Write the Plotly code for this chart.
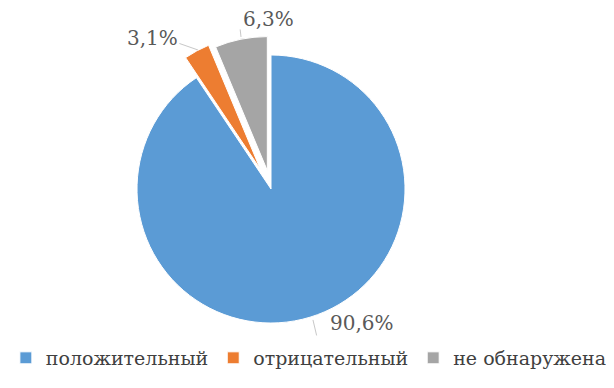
import plotly.graph_objects as go

labels = ["положительный", "отрицательный", "не обнаружена"]
values = [90.6, 3.1, 6.3]
text_labels = ["90,6%", "3,1%", "6,3%"]
colors = ["#5B9BD5", "#ED7D31", "#A5A5A5"]
pulls = [0, 0.17, 0.14]

SERIF = "DejaVu Serif, serif"

fig = go.Figure(go.Pie(
    labels=labels,
    values=values,
    sort=False,
    direction="clockwise",
    rotation=0,
    pull=pulls,
    marker=dict(colors=colors, line=dict(color="white", width=1)),
    textinfo="none",
    hoverinfo="label+percent",
    domain=dict(x=[0.173, 0.6837], y=[0.1294, 0.9376]),
))

# label positions (paper) and leader line tips / offsets
label_pos = [(0.5765, 0.188), (0.236, 0.9227), (0.425, 0.972)]
leader = [(0.4967, 0.196, 4, 17), (0.3094, 0.8918, -20, -7), (0.3795, 0.9253, -1, -9)]
for t, (x, y) in zip(text_labels, label_pos):
    fig.add_annotation(x=x, y=y, xref="paper", yref="paper", text=t,
                       showarrow=False, xanchor="center", yanchor="middle",
                       height=20, valign="middle", borderpad=0,
                       font=dict(family=SERIF, size=20, color="#595959"))
for (x, y, ax, ay) in leader:
    fig.add_annotation(x=x, y=y, xref="paper", yref="paper", text="",
                       showarrow=True, arrowhead=0, arrowwidth=1,
                       arrowcolor="#C8C8C8", ax=ax, ay=ay, standoff=0, startstandoff=0)

fig.update_layout(
    width=614, height=388,
    margin=dict(l=0, r=0, t=0, b=0, autoexpand=False),
    paper_bgcolor="white",
    plot_bgcolor="white",
    legend=dict(orientation="h", x=0.49, xanchor="center", y=0.098, yanchor="middle",
                font=dict(family=SERIF, size=19, color="#404040"),
                itemwidth=30, traceorder="normal"),
)

fig.write_html("out.html")
